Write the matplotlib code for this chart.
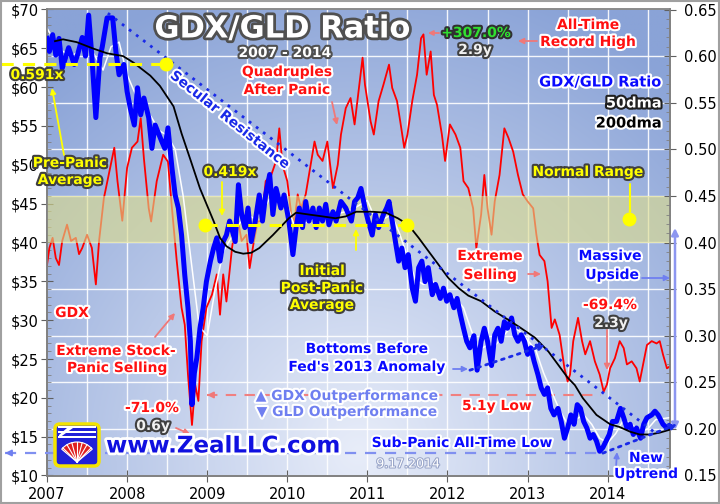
import numpy as np
import matplotlib
matplotlib.use('Agg')
import matplotlib.pyplot as plt
import matplotlib.patheffects as pe
from matplotlib.patches import FancyBboxPatch, Wedge, Rectangle, Polygon

# ---------------- data ----------------
gdx_t = [2007.00, 2007.03, 2007.07, 2007.11, 2007.15, 2007.19, 2007.25, 2007.30, 2007.36, 2007.40,
         2007.44, 2007.50, 2007.56, 2007.61, 2007.65, 2007.71, 2007.77, 2007.84, 2007.88, 2007.94,
         2008.00, 2008.06, 2008.13, 2008.17, 2008.21, 2008.27, 2008.30, 2008.37, 2008.45, 2008.51,
         2008.56, 2008.62, 2008.68, 2008.72, 2008.76, 2008.81, 2008.85, 2008.89, 2008.93, 2008.99,
         2009.06, 2009.12, 2009.16, 2009.20, 2009.24, 2009.31, 2009.37, 2009.43, 2009.49, 2009.53,
         2009.58, 2009.63, 2009.68, 2009.73, 2009.80, 2009.86, 2009.90, 2009.94, 2010.00, 2010.05,
         2010.09, 2010.13, 2010.17, 2010.23, 2010.27, 2010.34, 2010.38, 2010.44, 2010.50, 2010.57,
         2010.63, 2010.67, 2010.73, 2010.79, 2010.84, 2010.90, 2010.94, 2010.97, 2011.04, 2011.08,
         2011.14, 2011.20, 2011.27, 2011.31, 2011.37, 2011.41, 2011.46, 2011.50, 2011.56, 2011.62,
         2011.67, 2011.70, 2011.74, 2011.79, 2011.83, 2011.87, 2011.93, 2011.97, 2012.03, 2012.10,
         2012.16, 2012.20, 2012.26, 2012.32, 2012.36, 2012.42, 2012.46, 2012.50, 2012.55, 2012.59,
         2012.65, 2012.71, 2012.76, 2012.82, 2012.88, 2012.94, 2013.00, 2013.07, 2013.11, 2013.15,
         2013.21, 2013.25, 2013.30, 2013.34, 2013.40, 2013.46, 2013.50, 2013.53, 2013.57, 2013.63,
         2013.68, 2013.72, 2013.78, 2013.84, 2013.90, 2013.95, 2013.99, 2014.03, 2014.09, 2014.15,
         2014.20, 2014.24, 2014.30, 2014.36, 2014.40, 2014.49, 2014.55, 2014.61, 2014.65, 2014.69,
         2014.74, 2014.77]
gdx_v = [37.1, 39.3, 40.6, 38.0, 37.1, 40.2, 42.3, 40.2, 40.6, 38.5,
         39.3, 41.0, 39.3, 34.6, 40.2, 45.7, 48.7, 52.2, 47.9, 42.8,
         49.6, 52.2, 53.0, 56.0, 50.8, 44.4, 42.7, 47.9, 51.3, 50.4,
         44.4, 37.6, 31.6, 29.4, 23.0, 16.5, 21.7, 19.6, 27.3, 31.6,
         33.3, 35.9, 30.7, 35.9, 32.4, 39.3, 43.6, 40.2, 41.0, 36.7,
         40.0, 42.7, 42.8, 47.9, 48.7, 50.5, 54.7, 50.0, 47.9, 43.6,
         42.7, 46.2, 44.4, 46.2, 48.7, 53.0, 51.3, 50.5, 53.0, 47.0,
         50.0, 53.9, 57.3, 58.6, 55.2, 60.3, 63.8, 60.3, 55.6, 53.9,
         58.2, 60.3, 62.9, 59.9, 58.2, 55.6, 52.2, 53.9, 58.2, 61.6,
         66.3, 66.8, 61.6, 64.6, 59.0, 57.7, 53.9, 50.5, 55.2, 53.9,
         52.2, 47.9, 47.0, 44.4, 39.3, 43.6, 48.7, 44.4, 41.0, 45.3,
         48.7, 54.7, 53.5, 51.7, 48.7, 46.2, 45.3, 44.4, 41.0, 38.4,
         37.6, 35.0, 29.0, 30.1, 28.1, 23.8, 22.1, 23.0, 27.3, 30.3,
         27.3, 25.6, 27.3, 24.7, 23.0, 20.8, 21.7, 23.8, 25.1, 27.3,
         26.4, 24.3, 24.7, 23.8, 22.1, 26.8, 27.3, 27.0, 27.3, 25.6,
         23.8, 24.0]

ratio_t = [2007.00, 2007.03, 2007.07, 2007.11, 2007.15, 2007.19, 2007.23, 2007.27, 2007.34, 2007.38,
           2007.44, 2007.48, 2007.52, 2007.56, 2007.61, 2007.66, 2007.69, 2007.75, 2007.82, 2007.86,
           2007.90, 2007.96, 2008.00, 2008.04, 2008.09, 2008.13, 2008.17, 2008.21, 2008.27, 2008.31,
           2008.35, 2008.43, 2008.47, 2008.51, 2008.56, 2008.60, 2008.64, 2008.68, 2008.72, 2008.76,
           2008.79, 2008.81, 2008.84, 2008.87, 2008.91, 2008.95, 2008.99, 2009.04, 2009.08, 2009.12,
           2009.16, 2009.20, 2009.24, 2009.28, 2009.35, 2009.39, 2009.43, 2009.47, 2009.51, 2009.55,
           2009.60, 2009.65, 2009.69, 2009.73, 2009.78, 2009.82, 2009.86, 2009.92, 2009.96, 2010.02,
           2010.07, 2010.11, 2010.15, 2010.19, 2010.23, 2010.27, 2010.32, 2010.36, 2010.40, 2010.44,
           2010.48, 2010.52, 2010.57, 2010.61, 2010.67, 2010.73, 2010.80, 2010.84, 2010.88, 2010.92,
           2010.97, 2011.01, 2011.06, 2011.10, 2011.14, 2011.20, 2011.24, 2011.27, 2011.31, 2011.35,
           2011.39, 2011.43, 2011.47, 2011.51, 2011.56, 2011.60, 2011.64, 2011.68, 2011.72, 2011.76,
           2011.81, 2011.85, 2011.91, 2011.95, 2011.99, 2012.03, 2012.08, 2012.12, 2012.16, 2012.20,
           2012.24, 2012.28, 2012.33, 2012.37, 2012.42, 2012.46, 2012.50, 2012.55, 2012.59, 2012.63,
           2012.67, 2012.71, 2012.75, 2012.80, 2012.84, 2012.88, 2012.92, 2012.96, 2013.00, 2013.04,
           2013.08, 2013.13, 2013.17, 2013.21, 2013.25, 2013.29, 2013.33, 2013.38, 2013.42, 2013.46,
           2013.50, 2013.54, 2013.58, 2013.62, 2013.66, 2013.70, 2013.74, 2013.78, 2013.82, 2013.86,
           2013.90, 2013.94, 2013.98, 2014.02, 2014.06, 2014.11, 2014.16, 2014.20, 2014.24, 2014.28,
           2014.32, 2014.36, 2014.41, 2014.45, 2014.49, 2014.55, 2014.59, 2014.63, 2014.69, 2014.74,
           2014.77]
ratio_v = [0.619, 0.605, 0.623, 0.601, 0.619, 0.587, 0.598, 0.609, 0.591, 0.601,
           0.620, 0.600, 0.644, 0.600, 0.534, 0.598, 0.610, 0.641, 0.641, 0.605,
           0.580, 0.591, 0.562, 0.544, 0.526, 0.566, 0.537, 0.555, 0.534, 0.501,
           0.526, 0.509, 0.501, 0.523, 0.480, 0.451, 0.437, 0.408, 0.365, 0.330,
           0.294, 0.226, 0.260, 0.276, 0.308, 0.330, 0.358, 0.380, 0.394, 0.405,
           0.380, 0.401, 0.408, 0.423, 0.401, 0.462, 0.430, 0.416, 0.437, 0.401,
           0.423, 0.451, 0.423, 0.451, 0.473, 0.430, 0.458, 0.437, 0.451, 0.423,
           0.387, 0.416, 0.437, 0.416, 0.444, 0.423, 0.437, 0.416, 0.437, 0.423,
           0.441, 0.419, 0.433, 0.423, 0.444, 0.437, 0.423, 0.444, 0.448, 0.458,
           0.437, 0.423, 0.408, 0.430, 0.416, 0.430, 0.437, 0.444, 0.423, 0.401,
           0.380, 0.394, 0.373, 0.387, 0.351, 0.337, 0.373, 0.380, 0.358, 0.373,
           0.344, 0.355, 0.340, 0.351, 0.337, 0.344, 0.330, 0.340, 0.323, 0.308,
           0.294, 0.287, 0.300, 0.263, 0.294, 0.308, 0.294, 0.268, 0.301, 0.308,
           0.294, 0.315, 0.308, 0.319, 0.301, 0.294, 0.301, 0.294, 0.280, 0.287,
           0.273, 0.258, 0.244, 0.237, 0.244, 0.222, 0.215, 0.222, 0.208, 0.190,
           0.201, 0.215, 0.205, 0.226, 0.222, 0.208, 0.201, 0.190, 0.194, 0.187,
           0.176, 0.180, 0.187, 0.194, 0.208, 0.208, 0.222, 0.212, 0.201, 0.205,
           0.194, 0.201, 0.190, 0.205, 0.212, 0.215, 0.219, 0.215, 0.205, 0.201,
           0.203]

ma50_t = [2007.00, 2007.10, 2007.20, 2007.30, 2007.40, 2007.50, 2007.60, 2007.70, 2007.80, 2007.90,
          2008.00, 2008.10, 2008.20, 2008.30, 2008.40, 2008.50, 2008.60, 2008.70, 2008.80, 2008.90,
          2009.00, 2009.10, 2009.20, 2009.30, 2009.40, 2009.50, 2009.60, 2009.70, 2009.80, 2009.90,
          2010.00, 2010.10, 2010.20, 2010.40, 2010.60, 2010.80, 2010.90, 2011.00, 2011.10, 2011.20,
          2011.30, 2011.40, 2011.50, 2011.60, 2011.70, 2011.80, 2011.90, 2012.00, 2012.10, 2012.20,
          2012.30, 2012.40, 2012.50, 2012.60, 2012.70, 2012.80, 2012.90, 2013.00, 2013.10, 2013.20,
          2013.30, 2013.40, 2013.50, 2013.60, 2013.70, 2013.80, 2013.90, 2014.00, 2014.10, 2014.20,
          2014.30, 2014.40, 2014.50, 2014.60, 2014.77]
ma50_v = [0.630, 0.615, 0.605, 0.600, 0.605, 0.615, 0.600, 0.585, 0.610, 0.615,
          0.580, 0.560, 0.545, 0.535, 0.520, 0.515, 0.500, 0.450, 0.380, 0.310,
          0.300, 0.350, 0.390, 0.405, 0.420, 0.430, 0.425, 0.435, 0.450, 0.445,
          0.440, 0.415, 0.420, 0.428, 0.430, 0.435, 0.440, 0.445, 0.425, 0.425,
          0.430, 0.410, 0.385, 0.360, 0.355, 0.360, 0.350, 0.345, 0.340, 0.330,
          0.305, 0.285, 0.290, 0.290, 0.300, 0.310, 0.305, 0.295, 0.285, 0.260,
          0.240, 0.220, 0.205, 0.210, 0.215, 0.205, 0.190, 0.185, 0.195, 0.210,
          0.205, 0.197, 0.200, 0.210, 0.212]

ma200_t = [2007.10, 2007.20, 2007.37, 2007.58, 2007.75, 2007.95, 2008.08, 2008.29, 2008.41, 2008.58,
           2008.68, 2008.79, 2008.91, 2009.08, 2009.16, 2009.24, 2009.35, 2009.45, 2009.55, 2009.65,
           2009.82, 2010.02, 2010.11, 2010.27, 2010.44, 2010.60, 2010.73, 2010.86, 2011.06, 2011.23,
           2011.38, 2011.51, 2011.64, 2011.76, 2011.89, 2012.01, 2012.14, 2012.26, 2012.42, 2012.59,
           2012.76, 2012.92, 2013.09, 2013.26, 2013.38, 2013.50, 2013.59, 2013.69, 2013.86, 2014.03,
           2014.15, 2014.28, 2014.40, 2014.53, 2014.65, 2014.77]
ma200_v = [0.616, 0.618, 0.615, 0.608, 0.603, 0.600, 0.593, 0.579, 0.568, 0.546,
           0.517, 0.489, 0.458, 0.423, 0.405, 0.396, 0.390, 0.388, 0.389, 0.394,
           0.408, 0.426, 0.432, 0.430, 0.428, 0.426, 0.428, 0.433, 0.433, 0.432,
           0.426, 0.419, 0.405, 0.391, 0.376, 0.362, 0.351, 0.343, 0.337, 0.326,
           0.317, 0.308, 0.298, 0.283, 0.269, 0.255, 0.247, 0.233, 0.215, 0.205,
           0.202, 0.197, 0.194, 0.194, 0.196, 0.199]

years = [2007, 2008, 2009, 2010, 2011, 2012, 2013, 2014]
gdx_ticks = [10, 15, 20, 25, 30, 35, 40, 45, 50, 55, 60, 65, 70]
ratio_ticks = [0.15, 0.20, 0.25, 0.30, 0.35, 0.40, 0.45, 0.50, 0.55, 0.60, 0.65]
normal_range = (0.40, 0.45)
pre_panic_avg = 0.591
post_panic_avg = 0.419
gdx_5y_low = 20.4
sub_panic_low = 0.174

# ---------------- figure ----------------
W, H = 720, 504
fig = plt.figure(figsize=(W / 100, H / 100), dpi=100)
fig.patch.set_facecolor('white')
ax = fig.add_axes([47 / W, 1 - 475.5 / H, 623 / W, 466 / H])
ax2 = ax.twinx()
ax.set_xlim(2007, 2014.778)
ax.set_ylim(10, 70)
ax2.set_ylim(0.15, 0.65)
ax2.patch.set_visible(False)


def r2g(r):
    return 10 + (r - 0.15) * 120.0


# gradient background
ny, nx = 240, 320
yy, xx = np.mgrid[0:1:ny * 1j, 0:1:nx * 1j]
d = np.sqrt(((xx - 0.5) / 0.78) ** 2 + ((yy - 0.05) / 1.05) ** 2)
f = np.clip(d, 0, 1) ** 1.0
light = np.array([232, 237, 249]) / 255.0
dark = np.array([138, 163, 215]) / 255.0
img = light[None, None, :] * (1 - f[..., None]) + dark[None, None, :] * f[..., None]
ax.imshow(img, extent=(0, 1, 0, 1), transform=ax.transAxes, origin='lower',
          aspect='auto', zorder=0, interpolation='bilinear')

# grid
for yr in np.arange(2007.5, 2014.8, 0.5):
    ax.axvline(yr, color='white', lw=1.0, zorder=1, alpha=0.9)
for r in ratio_ticks[1:-1]:
    ax.axhline(r2g(r), color='white', lw=1.0, zorder=1, alpha=0.9)

# GDX (red)
ax.plot(gdx_t, gdx_v, color='#ff0000', lw=1.3, zorder=3)

# normal range band (over red, under ratio)
ax2.axhspan(normal_range[0], normal_range[1], color='#dcdc8c', alpha=0.62, zorder=1, lw=0)

# ratio lines
ax2.plot(ma50_t, ma50_v, color='white', lw=1.1, zorder=2)
ax2.plot(ratio_t, ratio_v, color='#0000ff', lw=3.6, zorder=3, solid_joinstyle='round')
ax2.plot(ma200_t, ma200_v, color='black', lw=1.3, zorder=5)

# secular resistance (dotted)
ax2.plot([2007.76, 2014.59], [0.646, 0.196], color='#1a2ae8', lw=2.0,
         linestyle=(0, (1, 2.2)), zorder=6, clip_on=False)
# 2012 bottoms uptrend
ax2.annotate('', xy=(2013.22, 0.290), xytext=(2012.28, 0.263),
             arrowprops=dict(arrowstyle='-|>', color='#1a2ae8', lw=2.0, linestyle=(0, (1, 2)),
                             mutation_scale=10, shrinkA=0, shrinkB=0), zorder=6)
# new uptrend
ax2.annotate('', xy=(2014.87, 0.205), xytext=(2013.94, 0.174),
             arrowprops=dict(arrowstyle='-|>', color='#1a2ae8', lw=2.0, linestyle=(0, (1, 2)),
                             mutation_scale=10, shrinkA=0, shrinkB=0), zorder=6,
             annotation_clip=False)

# yellow averages
ax2.plot([2006.42, 2008.49], [pre_panic_avg, pre_panic_avg], color='#ffff00', lw=2.2,
         linestyle=(0, (4, 3)), zorder=7, clip_on=False)
ax2.plot([2008.49], [pre_panic_avg], 'o', color='#ffff00', ms=9, zorder=8, clip_on=False)
ax2.plot([2008.97, 2011.49], [post_panic_avg, post_panic_avg], color='#ffff00', lw=2.2,
         linestyle=(0, (4, 3)), zorder=7)
ax2.plot([2008.97, 2011.49], [post_panic_avg, post_panic_avg], 'o', color='#ffff00', ms=9, zorder=8)
ax2.plot([2014.27], [0.425], 'o', color='#ffff00', ms=9, zorder=8)

# pink dashed 5.1y low
ax.plot([2009.0, 2013.92], [gdx_5y_low, gdx_5y_low], color='#f08080', lw=1.5,
        linestyle=(0, (5, 4)), zorder=6)
# blue dashed sub-panic low
ax2.plot([2006.48, 2013.92], [sub_panic_low, sub_panic_low], color='#8090f0', lw=1.6,
         linestyle=(0, (5, 4)), zorder=6, clip_on=False)

# axes styling
for a in (ax, ax2):
    for s in a.spines.values():
        s.set_color('#808080')
        s.set_linewidth(1.2)
ax.spines['top'].set_color('#d0d0d0')
ax.set_xticks(years)
ax.set_xticklabels([str(y) for y in years], fontsize=10.5)
ax.set_yticks(gdx_ticks)
ax.set_yticklabels(['$%d' % v for v in gdx_ticks], fontsize=10.5)
ax.set_yticks(np.arange(10, 71, 1), minor=True)
ax.tick_params(axis='y', which='major', direction='inout', length=8, color='#606060', pad=2)
ax.tick_params(axis='y', which='minor', direction='in', length=3, color='#808080')
ax.tick_params(axis='x', which='major', direction='inout', length=8, color='#606060', pad=4)
ax2.set_yticks(ratio_ticks)
ax2.set_yticklabels(['%.2f' % v for v in ratio_ticks], fontsize=10.5)
ax2.set_yticks(np.arange(0.15, 0.651, 0.01), minor=True)
ax2.tick_params(axis='y', which='major', direction='inout', length=8, color='#606060', pad=6)
ax2.tick_params(axis='y', which='minor', direction='in', length=3, color='#808080')


# ---------------- annotations ----------------
def label(x, y, s, color, size=10, outline='white', lw=3.0, ha='center', weight='bold', **kw):
    t = fig.text(x / W, 1 - y / H, s, color=color, fontsize=size, fontweight=weight,
                 ha=ha, va='center', zorder=20, **kw)
    t.set_path_effects([pe.withStroke(linewidth=lw, foreground=outline)])
    return t


def arrow(x1, y1, x2, y2, color, lw=1.3, ms=8, ls='-'):
    ax2.annotate('', xy=(x2, H - y2), xytext=(x1, H - y1), xycoords='figure pixels',
                 textcoords='figure pixels', annotation_clip=False, zorder=19,
                 arrowprops=dict(arrowstyle='-|>', color=color, lw=lw, linestyle=ls,
                                 mutation_scale=ms, shrinkA=0, shrinkB=0))


RED = '#ff1010'
BLUE = '#0a0aff'
YEL = '#ffff00'
PINK = '#f07878'
LBLUE = '#6f7ff0'

label(282, 29, 'GDX/GLD Ratio', 'white', size=22, outline='#505050', lw=4)
label(285, 53, '2007 - 2014', 'white', size=10, outline='#505050', lw=3)
label(287, 72, 'Quadruples', RED)
label(287, 90, 'After Panic', RED)
arrow(332, 102, 337, 125, PINK)
label(476, 33, '+307.0%', '#30e030', outline='#303030')
label(475, 50, '2.9y', '#f0f0f0', outline='#404040')
arrow(439, 33, 428, 33, PINK, ms=7)
label(588, 25, 'All-Time', RED)
label(588, 42, 'Record High', RED)
arrow(537, 41, 518, 41, PINK)
label(662, 82, 'GDX/GLD Ratio', BLUE, size=10.5, ha='right')
label(662, 103, '50dma', 'white', size=10.5, outline='#202020', ha='right')
label(662, 123, '200dma', 'black', size=10.5, outline='white', ha='right')
label(588, 172, 'Normal Range', YEL, outline='#404040')
arrow(630, 184, 630, 214, YEL, lw=1.5, ms=1)
label(37, 75, '0.591x', YEL, outline='#404040')
label(70, 163, 'Pre-Panic', YEL, outline='#404040')
label(70, 180, 'Average', YEL, outline='#404040')
arrow(64, 155, 52, 88, YEL, lw=1.3)
t = label(230, 120, 'Secular Resistance', '#1a2ae8', outline='white', rotation=-38.5,
          rotation_mode='anchor')
label(230, 172, '0.419x', YEL, outline='#404040')
arrow(222, 182, 222, 216, YEL, lw=1.3)
label(322, 271, 'Initial', YEL, outline='#404040')
label(322, 288, 'Post-Panic', YEL, outline='#404040')
label(322, 305, 'Average', YEL, outline='#404040')
arrow(356, 250, 356, 229, YEL, lw=1.3)
label(490, 256, 'Extreme', RED)
label(490, 275, 'Selling', RED)
arrow(528, 274, 541, 274, PINK)
label(610, 256, 'Massive', BLUE)
label(612, 275, 'Upside', BLUE)
arrow(642, 278, 670, 278, LBLUE)
label(610, 305, '-69.4%', RED)
label(611, 323, '2.3y', '#f0f0f0', outline='#404040')
arrow(607, 330, 607, 370, PINK)
label(72, 313, 'GDX', RED)
label(116, 351, 'Extreme Stock-', RED)
label(117, 368, 'Panic Selling', RED)
arrow(155, 337, 175, 313, PINK)
label(152, 408, '-71.0%', RED)
label(153, 426, '0.6y', '#f0f0f0', outline='#404040')
arrow(176, 428, 190, 434, PINK)
label(367, 349, 'Bottoms Before', BLUE)
label(367, 367, "Fed's 2013 Anomaly", BLUE)
arrow(453, 369, 468, 369, LBLUE)
label(347, 396, '\u25B2 GDX Outperformance', LBLUE)
label(347, 412, '\u25BC GLD Outperformance', LBLUE)
label(497, 406, '5.1y Low', RED)
arrow(210, 395, 207, 395, PINK, ms=9)
label(462, 443, 'Sub-Panic All-Time Low', BLUE)
label(408, 464, '9.17.2014', 'white', size=9, outline='#98a4c8', lw=1.5, weight='normal')
label(646, 458, 'New', BLUE)
label(646, 474, 'Uptrend', BLUE)
arrow(616, 468, 617, 452, LBLUE)
arrow(12, 453, 5, 453, LBLUE, ms=9)
label(223, 446, 'www.ZealLLC.com', '#1010e0', size=16.5, outline='white', lw=4)

# massive upside double arrow (right side)
ax2.annotate('', xy=(675, H - 430), xytext=(675, H - 228), xycoords='figure pixels',
             textcoords='figure pixels', annotation_clip=False,
             arrowprops=dict(arrowstyle='<|-|>', color='#8c96f0', lw=1.8, mutation_scale=10,
                             shrinkA=0, shrinkB=0))

# logo
lax = fig.add_axes([53 / W, 1 - 468 / H, 48 / W, 46 / H])
lax.set_xlim(0, 48)
lax.set_ylim(0, 46)
lax.axis('off')
lax.add_patch(FancyBboxPatch((2, 2), 44, 42, boxstyle='round,pad=0,rounding_size=5',
                             fc='#2020d8', ec='#f4e400', lw=2.5))
for yy0 in (30, 35, 40):
    lax.add_patch(Rectangle((5, yy0), 38, 2.2, fc='white', ec='none'))
lax.add_patch(Polygon([[6, 30], [20, 40], [14, 40], [6, 33]], fc='white', ec='none'))
lax.add_patch(Wedge((24, 6), 20, 40, 140, fc='#e02020', ec='white', lw=0.8))
for ang in np.linspace(45, 135, 7):
    a = np.deg2rad(ang)
    lax.plot([24, 24 + 20 * np.cos(a)], [6, 6 + 20 * np.sin(a)], color='white', lw=0.8)

# figure border
fig.add_artist(Rectangle((0.001, 0.001), 0.998, 0.998, transform=fig.transFigure,
                         fill=False, ec='#a0a0a0', lw=1.5))

fig.savefig('out.png', dpi=100, facecolor='white')
